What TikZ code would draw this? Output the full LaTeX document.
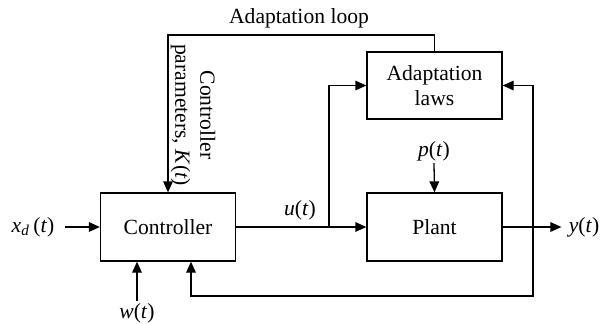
\documentclass[tikz,border=0pt]{standalone}
\usepackage{fontspec}
\setmainfont{Liberation Serif}
\usetikzlibrary{arrows.meta}
\newcommand{\sig}[1]{\textit{#1}(\textit{t})}
\begin{document}
\begin{tikzpicture}[x=0.5pt,y=-0.5pt,
  font=\fontsize{10.8}{12.5}\selectfont,
  block/.style={draw,line width=0.65pt,minimum width=67.5pt,minimum height=34pt,inner sep=0pt,align=center},
  lbl/.style={inner sep=1pt},
  wire/.style={line width=0.65pt},
  arr/.style={wire,-{Triangle[length=5.5pt,width=4.8pt]}}]
\useasboundingbox (0,0) rectangle (600,323);

% blocks
\node[block] (ctrl)  at (168,227)   {Controller};
\node[block] (plant) at (434.5,227) {Plant};
\node[block,minimum height=33.5pt] (adapt) at (434.5,85.5) {Adaptation\\laws};

% signal labels
\node[lbl] (xd) at (33,227)  {\textit{x}\textsubscript{\textit{d}}\,(\textit{t})};
\node[lbl] (w)  at (137,313) {\sig{w}};
\node[lbl] (u)  at (300,210) {\sig{u}};
\node[lbl] (p)  at (434,151) {\sig{p}};
\node[lbl] (y)  at (584,227) {\sig{y}};
\node[lbl] (loop) at (299,18) {Adaptation loop};
\node[rotate=-90,align=center] (kpar) at (193,115) {Controller\\parameters, \textit{K}(\textit{t})};

% junctions
\coordinate (br)  at (329,227);
\coordinate (top) at (300,35);
\coordinate (fb)  at (533,227);
\coordinate (fbb) at (533,296);

% forward path
\draw[arr,shorten <=4pt] (xd.east) -- (ctrl.west);
\draw[wire] (ctrl.east) -- (br);
\draw[arr] (br) -- (plant.west);
\draw[arr] (br) |- (adapt.west);
\draw[arr] (p.south) -- (plant.north);
\draw[wire] (plant.east) -- (fb);
\draw[arr,shorten >=2.5pt] (fb) -- (y.west);

% adaptation loop
\draw[arr] (adapt.north) |- (top) -| (ctrl.north);

% feedback paths
\draw[arr] (fb) |- (adapt.east);
\draw[arr] (fb) -- (fbb) -| ([xshift=11.5pt]ctrl.south);
\draw[arr] (w.north) -- (w.north |- ctrl.south);
\end{tikzpicture}
\end{document}
